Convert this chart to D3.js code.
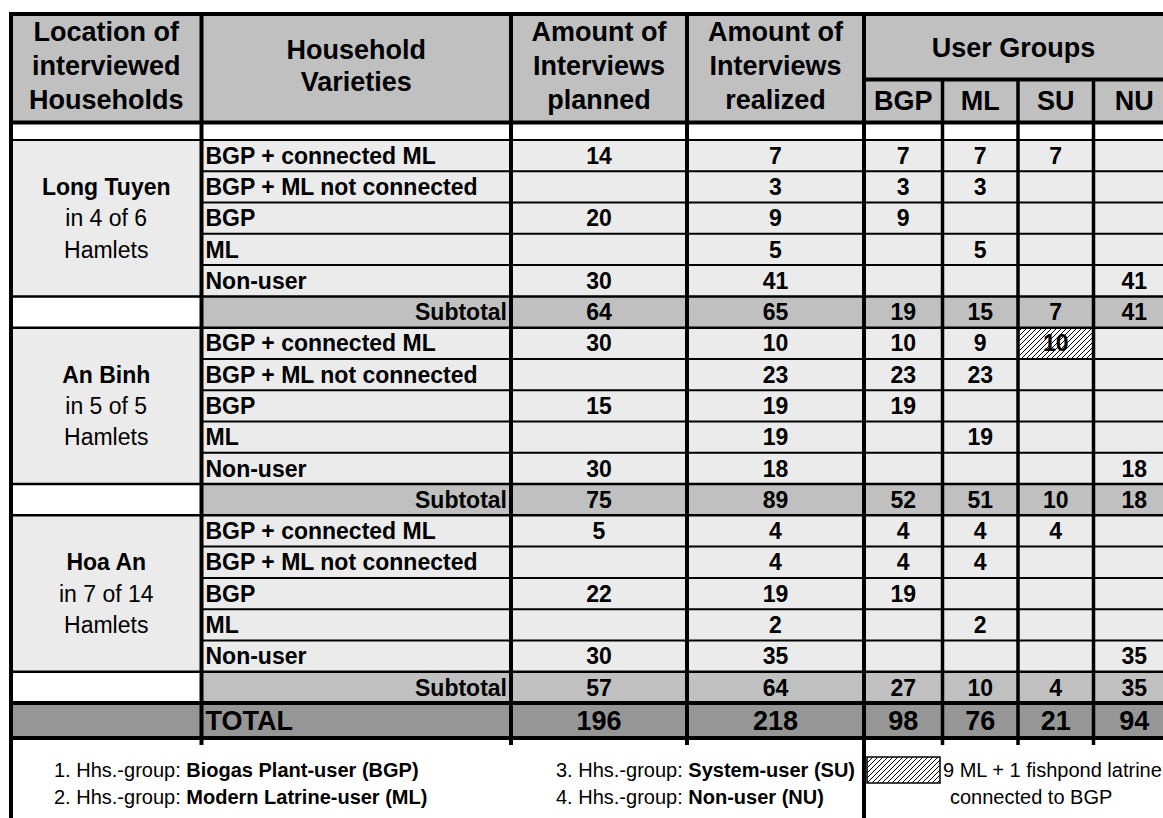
<!DOCTYPE html>
<html><head><meta charset="utf-8">
<script src="https://cdn.jsdelivr.net/npm/d3@7"></script>
<style>
body{margin:0;background:#fff}
svg{display:block}
text{font-family:"Liberation Sans",Arial,sans-serif;fill:#000}
</style>
</head><body>
<svg id="c" width="1163" height="818"></svg>
<script>
// ---------- data ----------
const locations = ["Long Tuyen", "An Binh", "Hoa An"];
const hamlets = ["in 4 of 6", "in 5 of 5", "in 7 of 14"];
const varieties = ["BGP + connected ML", "BGP + ML not connected", "BGP", "ML", "Non-user"];
const userGroups = ["BGP", "ML", "SU", "NU"];
const planned  = [[14, null, 20, null, 30], [30, null, 15, null, 30], [5, null, 22, null, 30]];
const realized = [[7, 3, 9, 5, 41], [10, 23, 19, 19, 18], [4, 4, 19, 2, 35]];
const bgpVals  = [[7, 3, 9, null, null], [10, 23, 19, null, null], [4, 4, 19, null, null]];
const mlVals   = [[7, 3, null, 5, null], [9, 23, null, 19, null], [4, 4, null, 2, null]];
const suVals   = [[7, null, null, null, null], [10, null, null, null, null], [4, null, null, null, null]];
const nuVals   = [[null, null, null, null, 41], [null, null, null, null, 18], [null, null, null, null, 35]];
const subPlanned = [64, 75, 57];
const subRealized = [65, 89, 64];
const subBGP = [19, 52, 27];
const subML = [15, 51, 10];
const subSU = [7, 10, 4];
const subNU = [41, 18, 35];
const totals = [196, 218, 98, 76, 21, 94];
const hatchedCell = {group: 1, row: 0, col: "SU"};
const notesLeft = [["1. Hhs.-group: ", "Biogas Plant-user (BGP)"], ["2. Hhs.-group: ", "Modern Latrine-user (ML)"]];
const notesRight = [["3. Hhs.-group: ", "System-user (SU)"], ["4. Hhs.-group: ", "Non-user (NU)"]];
const hatchNote = ["9 ML + 1 fishpond latrine", "connected to BGP"];

// ---------- layout ----------
const W = 1163, H = 818;
const colKeys = ["loc", "var", "planned", "realized", "BGP", "ML", "SU", "NU"];
const edges = [11, 201.5, 511, 687, 864, 942.5, 1018, 1093.5, 1175];
const xL = d3.scaleOrdinal().domain(colKeys).range(edges.slice(0, 8));
const xR = d3.scaleOrdinal().domain(colKeys).range(edges.slice(1));
const xC = k => (xL(k) + xR(k)) / 2;
const y = d3.scaleLinear().domain([0, 18]).range([140, 703]);
const totalBottom = 738;
const C_HEAD = "#c0c0c0", C_ROW = "#ebebeb", C_SUB = "#c0c0c0", C_TOT = "#969696";

const svg = d3.select("#c");
const defs = svg.append("defs");
const pat = defs.append("pattern").attr("id", "hatch").attr("patternUnits", "userSpaceOnUse")
  .attr("width", 5).attr("height", 5);
pat.append("rect").attr("width", 5).attr("height", 5).attr("fill", "#fff");
pat.append("path").attr("d", "M-1,1 l2,-2 M0,5 l5,-5 M4,6 l2,-2").attr("stroke", "#000").attr("stroke-width", 1);

// ---------- backgrounds ----------
const bg = svg.append("g");
bg.append("rect").attr("x", edges[0]).attr("y", 14).attr("width", W - edges[0]).attr("height", 122.5 - 14).attr("fill", C_HEAD);
locations.forEach((loc, g) => {
  bg.append("rect").attr("x", edges[0]).attr("y", y(6 * g)).attr("width", edges[1] - edges[0])
    .attr("height", y(6 * g + 5) - y(6 * g)).attr("fill", C_ROW);
  varieties.forEach((v, k) => {
    bg.append("rect").attr("x", edges[1]).attr("y", y(6 * g + k)).attr("width", W - edges[1])
      .attr("height", y(6 * g + k + 1) - y(6 * g + k)).attr("fill", C_ROW);
  });
  bg.append("rect").attr("x", edges[1]).attr("y", y(6 * g + 5)).attr("width", W - edges[1])
    .attr("height", y(6 * g + 6) - y(6 * g + 5)).attr("fill", C_SUB);
});
bg.append("rect").attr("x", edges[0]).attr("y", y(18)).attr("width", W - edges[0])
  .attr("height", totalBottom - y(18)).attr("fill", C_TOT);
{
  const r = 6 * hatchedCell.group + hatchedCell.row;
  bg.append("rect").attr("x", xL(hatchedCell.col)).attr("y", y(r)).attr("width", xR(hatchedCell.col) - xL(hatchedCell.col))
    .attr("height", y(r + 1) - y(r)).attr("fill", "url(#hatch)");
}

// ---------- text ----------
const tx = svg.append("g");
function t(x, yy, s, size, bold, anchor) {
  return tx.append("text").attr("x", x).attr("y", yy).attr("font-size", size)
    .attr("font-weight", bold ? "bold" : "normal").attr("text-anchor", anchor || "middle").text(s);
}
const HF = 27;
["Location of", "interviewed", "Households"].forEach((s, i) => t(xC("loc"), 41 + 34 * i, s, HF, true));
["Household", "Varieties"].forEach((s, i) => t(xC("var"), 59 + 32 * i, s, HF, true));
["Amount of", "Interviews", "planned"].forEach((s, i) => t(xC("planned"), 41 + 34 * i, s, HF, true));
["Amount of", "Interviews", "realized"].forEach((s, i) => t(xC("realized"), 41 + 34 * i, s, HF, true));
t((edges[4] + W) / 2, 57, "User Groups", HF, true);
userGroups.forEach(u => t(xC(u), 110, u, HF, true));

const BF = 23;
const rc = r => (y(r) + y(r + 1)) / 2;
const bl = (r, f) => rc(r) + f * 0.355;
const fmt = v => v == null ? "" : String(v);
locations.forEach((loc, g) => {
  t(xC("loc"), bl(6 * g + 1, BF), loc, BF, true);
  t(xC("loc"), bl(6 * g + 2, BF), hamlets[g], BF, false);
  t(xC("loc"), bl(6 * g + 3, BF), "Hamlets", BF, false);
  varieties.forEach((v, k) => {
    const r = 6 * g + k;
    t(edges[1] + 4, bl(r, BF), v, BF, true, "start");
    t(xC("planned"), bl(r, BF), fmt(planned[g][k]), BF, true);
    t(xC("realized"), bl(r, BF), fmt(realized[g][k]), BF, true);
    t(xC("BGP"), bl(r, BF), fmt(bgpVals[g][k]), BF, true);
    t(xC("ML"), bl(r, BF), fmt(mlVals[g][k]), BF, true);
    t(xC("SU"), bl(r, BF), fmt(suVals[g][k]), BF, true);
    t(xC("NU"), bl(r, BF), fmt(nuVals[g][k]), BF, true);
  });
  const r = 6 * g + 5;
  t(edges[2] - 4, bl(r, BF), "Subtotal", BF, true, "end");
  t(xC("planned"), bl(r, BF), subPlanned[g], BF, true);
  t(xC("realized"), bl(r, BF), subRealized[g], BF, true);
  t(xC("BGP"), bl(r, BF), subBGP[g], BF, true);
  t(xC("ML"), bl(r, BF), subML[g], BF, true);
  t(xC("SU"), bl(r, BF), subSU[g], BF, true);
  t(xC("NU"), bl(r, BF), subNU[g], BF, true);
});
const TF = 27;
const tc = (y(18) + totalBottom) / 2 + TF * 0.355;
t(edges[1] + 4, tc, "TOTAL", TF, true, "start");
["planned", "realized", "BGP", "ML", "SU", "NU"].forEach((k, i) => t(xC(k), tc, totals[i], TF, true));

// footer
const FF = 20;
const fy = [777, 804];
function note(x, yy, parts) {
  const e = tx.append("text").attr("x", x).attr("y", yy).attr("font-size", FF);
  e.append("tspan").text(parts[0]);
  e.append("tspan").attr("font-weight", "bold").text(parts[1]);
}
notesLeft.forEach((p, i) => note(54, fy[i], p));
notesRight.forEach((p, i) => note(556, fy[i], p));
svg.append("rect").attr("x", 867).attr("y", 757).attr("width", 73).attr("height", 26)
  .attr("fill", "url(#hatch)").attr("stroke", "#000").attr("stroke-width", 1.5);
t(943, fy[0], hatchNote[0], FF, false, "start");
t(950, fy[1], hatchNote[1], FF, false, "start");

// ---------- lines ----------
const ln = svg.append("g").attr("stroke", "#000");
function hl(x1, x2, yy, w) { ln.append("line").attr("x1", x1).attr("x2", x2).attr("y1", yy).attr("y2", yy).attr("stroke-width", w); }
function vl(x, y1, y2, w) { ln.append("line").attr("x1", x).attr("x2", x).attr("y1", y1).attr("y2", y2).attr("stroke-width", w); }
hl(9, W, 14, 4);
hl(edges[4], W, 79.5, 4);
hl(9, W, 122.5, 4);
hl(9, W, y(0), 2);
for (let r = 1; r < 18; r++) {
  const k = r % 6;
  if (k === 0 || k === 5) hl(9, W, y(r), 2.5);
  else hl(edges[1], W, y(r), 2);
}
hl(9, W, y(18), 4);
hl(9, W, totalBottom, 4);
vl(edges[0], 12, H, 4);
[1, 2, 3].forEach(i => vl(edges[i], 14, totalBottom + 7, 4));
vl(edges[4], 14, H, 4);
[5, 6, 7].forEach(i => vl(edges[i], 79.5, totalBottom + 7, 3.5));
</script>
</body></html>
